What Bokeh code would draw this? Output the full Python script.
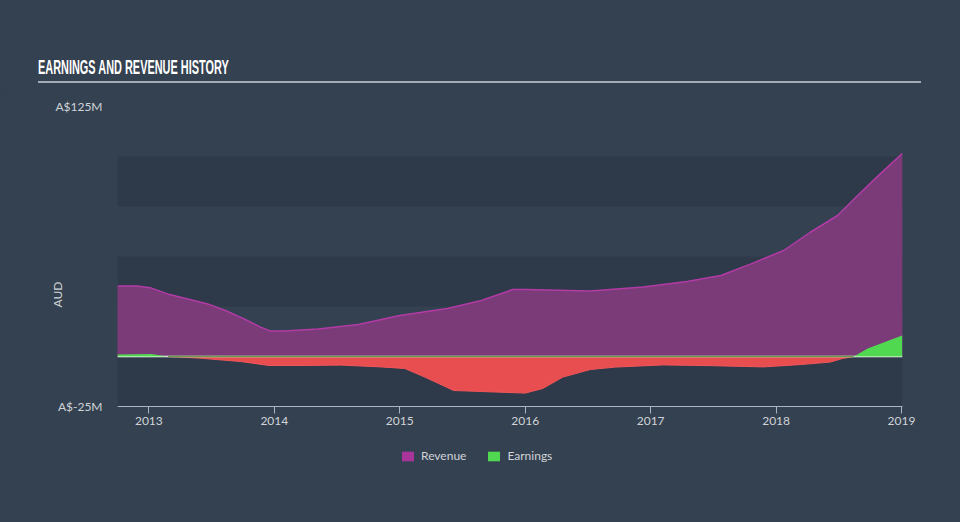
from bokeh.plotting import figure
from bokeh.layouts import column
from bokeh.models import FixedTicker, Range1d, Legend, LegendItem, Div
from bokeh.embed import file_html
from bokeh.resources import INLINE

# ---- data (A$ millions, decimal years) ----
rev_years = [2012.75, 2012.91, 2013.02, 2013.15, 2013.31, 2013.47, 2013.61, 2013.76,
             2013.89, 2013.97, 2014.08, 2014.35, 2014.67, 2015.0, 2015.38, 2015.65,
             2015.9, 2016.01, 2016.52, 2016.94, 2017.29, 2017.56, 2017.8, 2018.06,
             2018.27, 2018.49, 2018.65, 2018.83, 2019.005]
revenue = [35.2, 35.2, 34.2, 31.3, 28.8, 26.3, 23.0, 18.8,
           14.7, 12.7, 12.7, 13.8, 16.0, 20.5, 24.0, 28.0,
           33.5, 33.5, 32.7, 34.7, 37.5, 40.5, 46.3, 53.0,
           62.0, 70.5, 80.5, 91.3, 101.5]

earn_years = [2012.75, 2013.02, 2013.15, 2013.4, 2013.73, 2013.96, 2014.21, 2014.53,
              2014.85, 2015.04, 2015.2, 2015.43, 2015.65, 2016.0, 2016.14, 2016.3,
              2016.52, 2016.72, 2017.1, 2017.5, 2017.9, 2018.2, 2018.43, 2018.53,
              2018.62, 2018.73, 2019.005]
earnings = [1.0, 1.2, 0.0, -0.8, -2.5, -4.5, -4.5, -4.3,
            -5.2, -6.0, -10.3, -17.0, -17.5, -18.3, -16.0, -10.3,
            -6.5, -5.3, -4.2, -4.6, -5.2, -4.0, -2.8, -1.0,
            0.0, 4.0, 10.5]

x_ticks = [2013, 2014, 2015, 2016, 2017, 2018, 2019]
band_ticks = [-25, 0, 25, 50, 75, 100, 125]
y_ticks = [-25, 125]
y_tick_labels = {-25: "A$-25M", 125: "A$125M"}

title_text = "EARNINGS AND REVENUE HISTORY"
series_names = ["Revenue", "Earnings"]

# ---- layout constants ----
HEADER_H = 90
X_START, X_END = rev_years[0], rev_years[-1]
X_VIEW_END = 2019.47             # room on the right so the last tick label is not cut
Y_MIN, Y_MAX = band_ticks[0], band_ticks[-1]
Y_VIEW_MIN = -63                 # room under the axis for the legend

# ---- styling ----
BG = "#344150"
BAND = "#2e3a49"
REV_FILL = "#7b3a78"
REV_LINE = "#b23ba6"
REV_LEGEND = "#a8349a"
EARN_POS = "#50d850"
EARN_NEG = "#e84d50"
TXT = "#d0d4d8"
FONT = "Lato"
BG_STYLE = {"background-color": BG}

header = Div(
    text=(f'<div style="position:relative;width:960px;height:{HEADER_H}px;background:{BG};">'
          '<div style="position:absolute;left:38px;top:81px;width:883px;height:2px;background:#a3abb3;"></div>'
          '<div style="position:absolute;left:38px;top:56px;font-family:\'Liberation Sans\',Arial,sans-serif;'
          'font-weight:bold;font-size:21px;line-height:21px;color:#ffffff;white-space:nowrap;'
          f'transform:scaleX(0.52);transform-origin:left top;">{title_text}</div></div>'),
    width=960, height=HEADER_H, margin=0, styles=BG_STYLE)

p = figure(width=960, height=522 - HEADER_H, output_backend="svg", toolbar_location=None,
           x_range=Range1d(X_START, X_VIEW_END), y_range=Range1d(Y_VIEW_MIN, Y_MAX),
           min_border_left=117, min_border_right=0, min_border_top=106 - HEADER_H,
           min_border_bottom=40, margin=0, styles=BG_STYLE,
           background_fill_color=BG, border_fill_color=BG)
p.outline_line_color = None
p.xgrid.visible = False
p.ygrid.visible = False

# horizontal bands over the data extent
p.quad(left=X_START, right=X_END, bottom=band_ticks[0:-1:2], top=band_ticks[1::2],
       fill_color=BAND, line_color=None)

# revenue (bright legend swatch renderer underneath, muted fill on top)
r_rev = p.varea(x=rev_years, y1=[0] * len(revenue), y2=revenue, fill_color=REV_LEGEND)
p.varea(x=rev_years, y1=[0] * len(revenue), y2=revenue, fill_color=REV_FILL)
p.line(rev_years, revenue, line_color=REV_LINE, line_width=1.5)

# earnings split into positive / negative parts
e_pos = [max(v, 0) for v in earnings]
e_neg = [min(v, 0) for v in earnings]
p.varea(x=earn_years, y1=[0] * len(earnings), y2=e_neg, fill_color=EARN_NEG)
p.line(earn_years, e_neg, line_color="#f0565a", line_width=1)
p.line([X_START, X_END], [0, 0], line_color="#ffffff", line_width=1.5)
r_earn = p.varea(x=earn_years, y1=[0] * len(earnings), y2=e_pos, fill_color=EARN_POS)
neg_x = [x for x, v in zip(earn_years, earnings) if v <= 0]
p.line(neg_x, [0] * len(neg_x), line_color="#6c9a4e", line_width=1.5)

legend = Legend(items=[LegendItem(label=series_names[0], renderers=[r_rev]),
                       LegendItem(label=series_names[1], renderers=[r_earn])],
                orientation="horizontal", location=(283, 19),
                glyph_width=15, glyph_height=12, label_standoff=6, spacing=20,
                padding=0, margin=0, background_fill_alpha=0, border_line_color=None,
                label_text_color=TXT, label_text_font=FONT, label_text_font_size="12px")
p.add_layout(legend)

# x axis drawn at the bottom of the value range, only over the data extent
xa = p.xaxis[0]
xa.fixed_location = Y_MIN
xa.bounds = (X_START, X_END)
xa.ticker = FixedTicker(ticks=x_ticks)
xa.axis_line_color = "#a9b6c2"
xa.major_tick_line_color = "#a9b6c2"
xa.major_tick_in = 0
xa.major_tick_out = 7
xa.minor_tick_line_color = None
xa.major_label_standoff = 3
xa.major_label_text_color = TXT
xa.major_label_text_font = FONT
xa.major_label_text_font_size = "12px"

ya = p.yaxis[0]
ya.bounds = (Y_MIN, Y_MAX)
ya.ticker = FixedTicker(ticks=y_ticks)
ya.major_label_overrides = y_tick_labels
ya.axis_line_color = None
ya.major_tick_line_color = None
ya.minor_tick_line_color = None
ya.major_label_standoff = 9
ya.major_label_text_color = TXT
ya.major_label_text_font = FONT
ya.major_label_text_font_size = "12px"
ya.axis_label = "AUD"
ya.axis_label_standoff = -13
ya.axis_label_text_color = TXT
ya.axis_label_text_font = FONT
ya.axis_label_text_font_style = "normal"
ya.axis_label_text_font_size = "12px"

layout = column(header, p, spacing=0, margin=0, styles=BG_STYLE)
open("out.html", "w").write(file_html(layout, INLINE))
